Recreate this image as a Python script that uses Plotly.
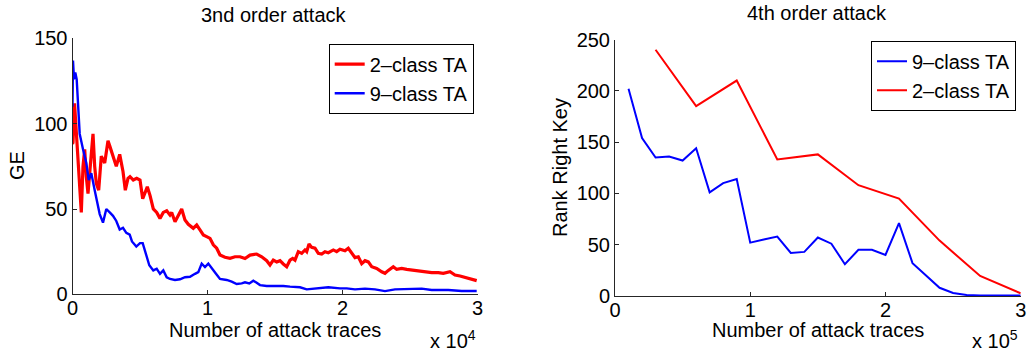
import plotly.graph_objects as go

# ---- 3rd order attack (guessing entropy vs. number of traces) ----
ge_2class_x = [0, 37, 150, 207, 356, 459, 533, 652, 778, 904, 1022, 1148, 1274, 1393, 1519,
               1644, 1763, 1941, 2133, 2385, 2630, 2756, 3000, 3244, 3496, 3741, 3911, 4111,
               4259, 4504, 4755, 5000, 5200, 5370, 5540, 5741, 5985, 6237, 6481, 6726, 6978,
               7222, 7348, 7593, 7837, 8089, 8333, 8578, 8948, 9200, 9444, 9689, 9941, 10185,
               10430, 10681, 10926, 11296, 11667, 12037, 12407, 12778, 13148, 13644, 14015,
               14385, 14630, 14874, 15126, 15370, 15615, 15867, 16111, 16311, 16481, 16726,
               16978, 17222, 17348, 17519, 17719, 17963, 18207, 18459, 18704, 18948, 19319,
               19570, 19815, 20185, 20430, 20681, 20926, 21170, 21422, 21667, 21911, 22163,
               22533, 22904, 23148, 23393, 23763, 24015, 24385, 24756, 25126, 25496, 25867,
               26237, 26607, 27096, 27467, 27963, 28333, 28704, 29074, 29444, 29941]
ge_2class_y = [88, 89, 112, 104, 85, 71, 63, 48, 75, 85, 69, 59, 71, 85, 94,
               75, 65, 61, 81, 77, 90, 87, 81, 75, 82, 72, 61, 68,
               69, 67, 68, 67, 56, 60, 63, 58, 50, 48, 44.5, 48, 49,
               46.5, 48, 42.5, 46.5, 50, 43.5, 41, 38.7, 40.6, 37.7, 34.8, 33.8, 32.8,
               29, 27, 23, 21.7, 21.1, 22, 22, 21, 23, 23.6, 22,
               19.7, 17.2, 20, 19, 19.7, 17.8, 16.2, 20, 21, 20, 25,
               24, 26, 25, 29.5, 27.5, 27, 24, 23.6, 25, 24.4, 26,
               25, 26.4, 25.5, 27, 24, 21.5, 22, 18, 19.7, 19, 16.2,
               15.2, 13.2, 12.3, 14, 16.2, 14.6, 15.2, 14.6, 14.2, 13.8, 13.2,
               13.2, 12.7, 12.7, 12.3, 13.2, 11.3, 10.7, 10, 9.4, 8]

ge_9class_x = [0, 37, 111, 207, 311, 407, 533, 778, 1022, 1200, 1393, 1644, 1837, 2015, 2259,
               2504, 2756, 3000, 3244, 3496, 3741, 3985, 4237, 4407, 4726, 5000, 5200, 5444,
               5689, 5985, 6237, 6481, 6726, 6978, 7222, 7593, 7963, 8333, 8704, 9074, 9319,
               9570, 9815, 10059, 10311, 10630, 10926, 11422, 11793, 12163, 12533, 12778,
               13096, 13393, 13644, 13889, 14385, 14874, 15615, 16111, 16607, 16852, 17348,
               18089, 18948, 19815, 20311, 20926, 21667, 22407, 23148, 23889, 24874, 25867,
               26607, 27837, 28830, 29941]
ge_9class_y = [110, 137, 126, 130, 126, 114, 94, 85, 77, 67, 71, 61, 53, 47, 42,
               50, 48, 46, 43, 38, 39, 36, 35, 31, 28, 30, 30, 23,
               17, 14, 15, 12, 14, 10, 9, 8.4, 8.8, 10, 10.3, 12, 13,
               18, 16, 18, 15, 12, 9, 8.4, 7.4, 6, 6.4, 7,
               6.4, 8, 6.8, 5.4, 4.9, 5, 4.9, 4.5, 4.1, 4.1, 2.9,
               3.5, 4.1, 3.5, 3.5, 2.9, 3.3, 2.9, 1.9, 2.9, 3.3, 3.3,
               2.5, 2.5, 1.9, 1.9]

# ---- 4th order attack (rank of the right key) ----
rank_9class_x = [10000, 20000, 30000, 40000, 50000, 60000, 70000, 80000, 90000, 100000,
                 110000, 120000, 130000, 140000, 150000, 160000, 170000, 180000, 190000,
                 200000, 210000, 220000, 230000, 240000, 250000, 260000, 270000, 280000,
                 290000, 300000]
rank_9class_y = [202, 154, 135, 136, 132, 144, 101, 110, 114, 52,
                 55, 58, 42, 43, 57, 51, 31, 45, 45,
                 40, 71, 32, 20, 8, 3, 1, 0.5, 0.5,
                 0.5, 0.5]

rank_2class_x = [30000, 60000, 90000, 120000, 150000, 180000, 210000, 240000, 270000, 300000]
rank_2class_y = [240, 185, 210, 133, 138, 108, 95, 54, 19.5, 2.6]

x1_ticks = [0, 10000, 20000, 30000]
x2_ticks = [0, 100000, 200000, 300000]
x_tick_text = ["0", "1", "2", "3"]
y1_ticks = [0, 50, 100, 150]
y2_ticks = [0, 50, 100, 150, 200, 250]

RED = "#ff0000"
BLUE = "#0000ff"
FONT = "Liberation Sans, Arial, sans-serif"
AXC = "#262626"

fig = go.Figure()
fig.add_trace(go.Scatter(x=ge_2class_x, y=ge_2class_y, mode="lines", name="2\u2013class TA",
                         line=dict(color=RED, width=3.2), xaxis="x", yaxis="y", legend="legend"))
fig.add_trace(go.Scatter(x=ge_9class_x, y=ge_9class_y, mode="lines", name="9\u2013class TA",
                         line=dict(color=BLUE, width=2.4), xaxis="x", yaxis="y", legend="legend"))
fig.add_trace(go.Scatter(x=rank_9class_x, y=rank_9class_y, mode="lines", name="9\u2013class TA",
                         line=dict(color=BLUE, width=2), xaxis="x2", yaxis="y2", legend="legend2"))
fig.add_trace(go.Scatter(x=rank_2class_x, y=rank_2class_y, mode="lines", name="2\u2013class TA",
                         line=dict(color=RED, width=2), xaxis="x2", yaxis="y2", legend="legend2"))

W, H = 1027, 356

def px_x(p):
    return p / W

def px_y(p):
    return (H - p) / H

axis_common = dict(showgrid=False, zeroline=False, showline=True, linecolor=AXC, linewidth=1,
                   ticks="inside", ticklen=4, tickcolor=AXC, tickwidth=1, automargin=False,
                   tickfont=dict(family=FONT, size=20, color="black"))

fig.update_layout(
    template="none",
    width=W, height=H,
    margin=dict(l=0, r=0, t=0, b=0, pad=0),
    paper_bgcolor="white", plot_bgcolor="white",
    font=dict(family=FONT, size=20, color="black"),
    xaxis=dict(domain=[px_x(72.5), px_x(477.5)], range=[0, 30000], anchor="y",
               tickvals=x1_ticks, ticktext=x_tick_text, ticklabelstandoff=-4, **axis_common),
    yaxis=dict(domain=[px_y(294.3), px_y(38.4)], range=[0, 150], anchor="x",
               tickvals=y1_ticks, **axis_common),
    xaxis2=dict(domain=[px_x(615), px_x(1020.7)], range=[0, 300000], anchor="y2",
                tickvals=x2_ticks, ticktext=x_tick_text, ticklabelstandoff=-4, **axis_common),
    yaxis2=dict(domain=[px_y(296), px_y(39.5)], range=[0, 250], anchor="x2",
                tickvals=y2_ticks, **axis_common),
    legend=dict(x=px_x(473.7), y=px_y(43.7), xanchor="right", yanchor="top",
                bordercolor="black", borderwidth=1, bgcolor="white",
                font=dict(family=FONT, size=20), tracegroupgap=0, itemwidth=30),
    legend2=dict(x=px_x(1016), y=px_y(40.7), xanchor="right", yanchor="top",
                 bordercolor="black", borderwidth=1, bgcolor="white",
                 font=dict(family=FONT, size=20), tracegroupgap=0, itemwidth=30),
    showlegend=True,
)

def label(text, x, y, angle=0, xanchor="center"):
    return dict(text=text, x=px_x(x), y=px_y(y), xref="paper", yref="paper",
                xanchor=xanchor, yanchor="middle", showarrow=False, textangle=angle,
                font=dict(family=FONT, size=20, color="black"))

fig.update_layout(annotations=[
    label("3nd order attack", 274, 15),
    label("4th order attack", 816.5, 13),
    label("Number of attack traces", 274.5, 330),
    label("Number of attack traces", 817.5, 330),
    label("GE", 17, 166, angle=-90),
    label("Rank Right Key", 559.5, 167.5, angle=-90),
    label("x 10<sup>4</sup>", 478, 339, xanchor="right"),
    label("x 10<sup>5</sup>", 1020, 339, xanchor="right"),
])

fig.write_html("out.html")
